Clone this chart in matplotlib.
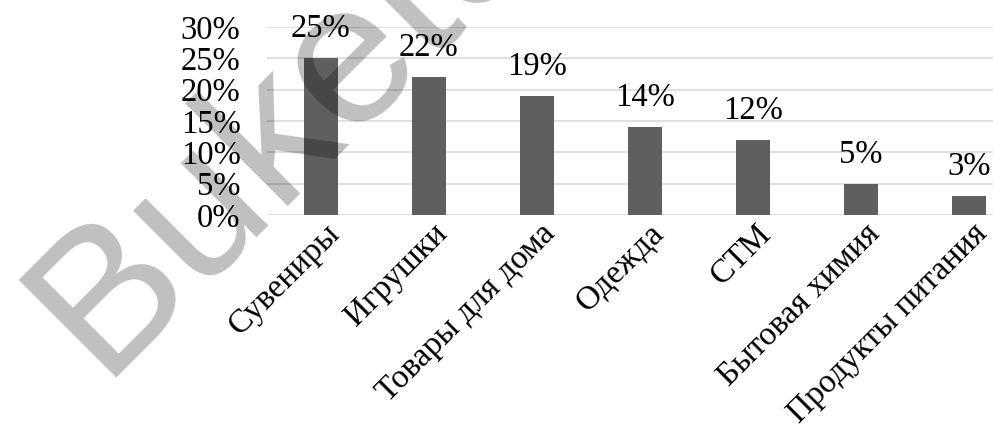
import matplotlib.pyplot as plt
import matplotlib.transforms as mtransforms
import numpy as np

categories = ["Сувениры", "Игрушки", "Товары для дома", "Одежда", "СТМ",
              "Бытовая химия", "Продукты питания"]
shares = [25, 22, 19, 14, 12, 5, 3]
y_ticks = [0, 5, 10, 15, 20, 25, 30]

plt.rcParams['font.family'] = ['Liberation Serif', 'DejaVu Serif']

fig = plt.figure(figsize=(9.93, 4.43), dpi=100)
ax = fig.add_axes([267/993, 1 - 215/443, 756/993, 188/443])

x = np.arange(len(categories))
ax.bar(x, shares, width=0.315, color='#5f5f5f', zorder=2)

for xi, v in zip(x, shares):
    ax.annotate(f"{v}%", (xi, v), xytext=(0, 10), textcoords='offset points',
                ha='center', va='bottom', fontsize=23.5)

ax.set_xlim(-0.5, len(categories) - 0.5)
ax.set_ylim(0, 30)
ax.set_yticks(y_ticks)
ax.set_yticklabels([f"{t}%" for t in y_ticks], fontsize=23.5)
ax.yaxis.grid(True, color='#d9d9d9', linewidth=1.2, zorder=0)
ax.tick_params(axis='y', length=0, pad=19)

ax.set_xticks(x)
ax.set_xticklabels(categories, fontsize=24, rotation=45, ha='right',
                   va='center', rotation_mode='anchor')
ax.tick_params(axis='x', length=0, pad=10)
shift = mtransforms.ScaledTranslation(14/100, 0, fig.dpi_scale_trans)
for lbl in ax.get_xticklabels():
    lbl.set_transform(lbl.get_transform() + shift)

for s in ax.spines.values():
    s.set_visible(False)

# watermark
fig.text(100/993, 1 - 378/443, "Buketov", fontsize=145, family='Liberation Sans',
         rotation=45, rotation_mode='anchor', ha='left', va='baseline',
         color='black', alpha=0.25, zorder=10)

fig.savefig("out.png", dpi=100)
